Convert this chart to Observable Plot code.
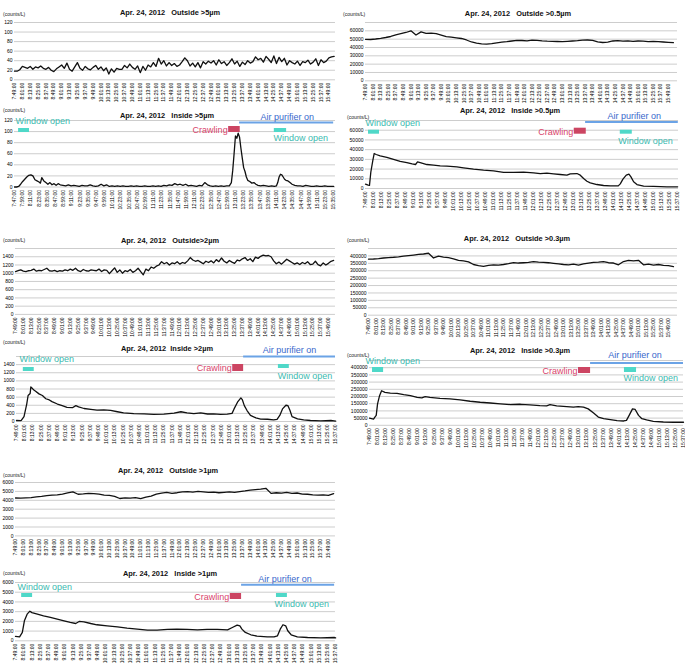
<!DOCTYPE html>
<html><head><meta charset="utf-8">
<script src="https://cdn.jsdelivr.net/npm/d3@7"></script>
<script src="https://cdn.jsdelivr.net/npm/@observablehq/plot@0.6"></script>
<style>
body{margin:0;background:#fff;}
#root{position:relative;width:685px;height:664px;overflow:hidden;font-family:"Liberation Sans",Arial,Helvetica,sans-serif;background:#fff;}
.title{position:absolute;font-weight:bold;font-size:7.4px;white-space:pre;transform:translate(-50%,-50%);color:#111;}
.unit{position:absolute;font-size:5px;transform:translateY(-50%);color:#222;white-space:pre;}
</style></head><body><div id="root"></div>
<script>
// ---------- DATA ----------
// Outside series sampled every 4 minutes from 7:49
const outside5Start = "7:49";
const outside5 = [18,18,21,28,26,24,28,22,27,25,
 29,24,22,26,20,17,23,27,31,24,
 35,22,18,27,36,24,20,28,23,21,
 26,30,22,27,19,25,12,23,16,24,
 22,22,30,25,33,26,22,29,15,28,
 20,31,27,36,28,45,33,40,29,36,
 30,34,28,31,38,46,40,29,35,27,
 36,25,38,33,39,35,40,31,42,34,
 38,30,36,44,33,39,28,37,32,40,
 35,38,48,42,45,37,49,43,36,50,
 34,47,38,45,31,40,36,33,39,30,
 38,36,41,33,37,44,30,42,36,39,
 46,48,49];
const outside2Start = "7:49";
const outside2 = [1040,1060,1080,1050,1040,1060,1070,1100,1050,1070,
 1060,1090,1120,1060,1050,1070,1040,1060,1050,1080,
 1060,1100,1070,1120,1060,1040,1090,1060,1050,1080,
 1070,1060,1100,1040,1080,1070,990,1060,1130,1020,
 1080,1000,1060,1040,1090,1020,1060,1120,1040,960,
 1100,1060,1150,1120,1170,1200,1280,1230,1260,1200,
 1250,1230,1280,1220,1260,1240,1300,1380,1320,1290,
 1310,1270,1230,1290,1260,1300,1250,1330,1280,1370,
 1290,1250,1310,1270,1240,1320,1300,1350,1380,1310,
 1350,1280,1390,1360,1410,1440,1420,1430,1400,1300,
 1230,1270,1220,1280,1340,1300,1260,1220,1250,1210,
 1260,1230,1280,1210,1220,1290,1210,1180,1250,1200,
 1240,1290,1310];
// Outside series sampled every 8 minutes from 7:49
const outside1Start = "7:49";
const outside1 = [4260,4250,4270,4300,4380,4430,4520,4580,4620,4700,
 4840,4950,4680,4720,4780,4740,4700,4580,4560,4450,
 4200,4280,4250,4300,4180,4350,4480,4700,4800,4880,
 4780,4850,4950,4980,4920,5000,4950,4880,4920,4850,
 4900,4950,4880,4980,5050,5150,5200,5250,5350,4780,
 4850,4800,4880,4780,4820,4700,4680,4620,4580,4600,
 4550,4750];
const outside05Start = "7:49";
const outside05 = [49800,49600,50200,51000,52000,53200,55000,56500,58000,60000,
 55000,58800,57000,57200,56600,54800,53000,52400,51600,50800,
 49000,46600,45200,44400,44000,44600,45600,46400,47000,47800,
 48600,48400,48000,48800,48600,48000,47600,47400,47200,47000,
 47400,47800,48200,48800,49000,48600,46800,46000,46400,47800,
 48200,47600,48000,47400,47800,47600,47000,47400,47000,46600,
 46200,45800];
const outside03Start = "7:49";
const outside03 = [378000,379000,382000,386000,389000,391000,394000,398000,402000,406000,
 410000,413000,418000,386000,398000,392000,388000,380000,370000,366000,
 360000,342000,334000,330000,336000,340000,338000,342000,348000,355000,
 352000,354000,356000,362000,358000,356000,354000,350000,346000,342000,
 340000,344000,338000,346000,352000,356000,358000,362000,354000,352000,
 340000,362000,370000,366000,370000,340000,345000,338000,342000,336000,
 334000,328000];

// Inside series (time, value)
const inside5Times = ["7:47","7:50","7:53","7:56","7:59","8:02","8:05","8:08","8:11","8:14",
 "8:17","8:20","8:23","8:25","8:27","8:30","8:33","8:36","8:39","8:42",
 "8:45","8:48","8:51","8:54","8:58","9:02","9:06","9:10","9:14","9:18",
 "9:22","9:26","9:30","9:34","9:38","9:42","9:46","9:50","9:54","9:58",
 "10:02","10:06","10:10","10:14","10:18","10:22","10:26","10:30","10:34","10:38",
 "10:42","10:46","10:50","10:54","10:58","11:02","11:06","11:10","11:14","11:18",
 "11:22","11:26","11:30","11:34","11:38","11:42","11:46","11:50","11:54","11:58",
 "12:02","12:06","12:10","12:14","12:18","12:22","12:26","12:30","12:34","12:38",
 "12:42","12:46","12:50","12:54","12:58","13:02","13:05","13:07","13:09","13:11",
 "13:13","13:15","13:17","13:19","13:21","13:23","13:25","13:27","13:29","13:32",
 "13:35","13:38","13:41","13:44","13:48","13:52","13:56","14:00","14:04","14:08",
 "14:11","14:13","14:15","14:17","14:19","14:21","14:23","14:25","14:28","14:31",
 "14:34","14:38","14:42","14:46","14:50","14:54","14:58","15:02","15:06","15:10",
 "15:14","15:18","15:22","15:26","15:30","15:35"];
const inside5 = [0,0,1,5,10,14,18,21,22,20,
 13,11,9,7,17,11,8,5,8,4,
 6,3,6,4,3,2,4,2,3,2,
 1,3,2,2,4,2,1,2,5,2,
 4,1,2,1,2,1,2,1,1,2,
 1,2,1,1,2,1,1,2,1,2,
 1,3,2,4,3,6,4,5,3,5,
 2,3,2,1,3,2,8,4,2,1,
 2,1,2,1,2,2,8,30,60,92,
 88,97,90,70,52,35,28,18,12,10,
 7,8,5,3,2,3,2,1,2,1,
 2,8,18,23,22,18,14,12,11,8,
 5,3,2,2,1,3,2,1,1,2,
 1,1,2,1,1,1];

const inside05Times = ["7:49","7:51","7:53","7:55","7:57","8:00","8:02","8:05","8:11","8:21",
 "8:31","8:41","8:51","8:59","9:04","9:07","9:11","9:21","9:31","9:41",
 "9:51","10:06","10:16","10:31","10:46","11:01","11:16","11:31","11:46","12:01",
 "12:11","12:21","12:31","12:41","12:51","12:56","13:06","13:11","13:16","13:21",
 "13:26","13:36","13:46","13:56","14:08","14:11","14:15","14:20","14:24","14:27",
 "14:31","14:36","14:46","15:01","15:21","15:37"];
const inside05 = [4500,4000,3500,3300,17000,29000,36000,35000,33600,32000,
 30000,28000,26700,25400,24700,27400,26700,24700,24000,23300,
 23000,22300,21300,19900,18900,18200,16500,16500,16800,16100,
 15400,15800,15100,14400,13700,15100,15400,13700,10300,7500,
 5800,4100,3100,2700,2700,4800,9600,13700,14700,12000,
 6900,4100,2400,2100,1700,1700];

const inside2Times = ["7:49","7:55","7:56","8:00","8:04","8:06","8:09","8:10","8:12","8:14",
 "8:17","8:22","8:27","8:32","8:36","8:41","8:49","8:56","9:03","9:11",
 "9:16","9:20","9:28","9:38","9:47","9:57","10:07","10:17","10:26","10:41",
 "10:56","11:10","11:25","11:40","11:50","11:59","12:09","12:19","12:29","12:38",
 "12:48","12:58","13:05","13:08","13:13","13:18","13:20","13:23","13:27","13:32",
 "13:40","13:47","13:57","14:06","14:11","14:15","14:19","14:24","14:27","14:30",
 "14:33","14:41","14:50","15:00","15:15","15:30","15:37"];
const inside2 = [25,20,25,120,430,640,690,850,820,780,
 745,680,640,560,540,490,430,390,350,340,
 390,360,320,300,280,285,275,240,210,195,
 190,175,180,205,240,210,195,210,185,190,
 175,180,200,310,475,580,540,390,270,150,
 90,60,55,40,50,150,310,400,390,270,
 120,65,40,25,15,25,10];

const inside03Times = ["7:49","7:55","7:57","7:59","8:01","8:04","8:07","8:12","8:20","8:30",
 "8:40","8:50","9:00","9:07","9:12","9:19","9:34","9:49","10:04","10:19",
 "10:34","10:49","11:04","11:19","11:34","11:48","12:03","12:13","12:18","12:28",
 "12:43","12:53","13:00","13:08","13:15","13:23","13:30","13:38","13:48","13:58",
 "14:08","14:12","14:16","14:21","14:25","14:30","14:35","14:42","14:52","15:07",
 "15:22","15:37"];
const inside03 = [50000,43000,57000,69000,149000,206000,240000,229000,224000,222000,
 213000,206000,194000,190000,199000,194000,187000,183000,176000,167000,
 160000,155000,149000,144000,146000,142000,137000,135000,144000,135000,
 130000,126000,130000,126000,114000,85000,57000,46000,39000,32000,
 30000,34000,69000,114000,110000,69000,46000,37000,27000,23000,
 21000,21000];

const inside1Times = ["7:49","7:55","7:59","8:02","8:06","8:10","8:13","8:21","8:30","8:40",
 "8:50","9:00","9:09","9:17","9:22","9:29","9:39","9:48","10:03","10:18",
 "10:32","10:47","11:02","11:16","11:31","11:45","12:00","12:15","12:29","12:44",
 "12:59","13:06","13:13","13:17","13:20","13:25","13:33","13:42","13:57","14:07",
 "14:12","14:16","14:20","14:24","14:27","14:32","14:41","14:56","15:15","15:35",
 "15:37"];
const inside1 = [450,400,860,2060,2740,3050,2900,2740,2570,2400,
 2230,2060,1890,1780,1990,1950,1780,1650,1540,1440,
 1300,1200,1100,1100,1170,1200,1170,1130,1170,1170,
 1130,1370,1610,1540,1200,860,620,480,410,410,
 510,1200,1650,1540,1030,620,410,340,310,340,
 310];

const titles = {
  o5: "Apr. 24, 2012   Outside >5µm", i5: "Apr. 24, 2012   Inside >5µm",
  o2: "Apr. 24, 2012   Outside>2µm", i2: "Apr. 24, 2012  Inside >2µm",
  o1: "Apr. 24, 2012   Outside >1µm", i1: "Apr. 24, 2012   Inside >1µm",
  o05: "Apr. 24, 2012   Outside >0.5µm", i05: "Apr. 24, 2012   Inside >0.5µm",
  o03: "Apr. 24, 2012   Outside >0.3µm", i03: "Apr. 24, 2012   Inside >0.3µm"
};
const unitLabel = "(counts/L)";
const annText = {window: "Window open", crawl: "Crawling", purifier: "Air purifier on"};

// ---------- HELPERS ----------
const toMin = s => { const [h, m] = s.split(":").map(Number); return h * 60 + m; };
const fmtTime = m => `${Math.floor(m / 60)}:${String(m % 60).padStart(2, "0")}:00`;
const regular = (start, step, vals) => vals.map((v, i) => ({t: toMin(start) + step * i, v}));
const paired = (times, vals) => times.map((s, i) => ({t: toMin(s), v: vals[i]}));
const tickRange = (a, b) => d3.range(toMin(a), toMin(b) + 1, 12);
const FONT = '"Liberation Sans", Arial, Helvetica, sans-serif';
const TEAL = "#4fd8c8", TEAL_TXT = "#3cbab0", BLUE = "#6ba3e6", BLUE_TXT = "#3868cc", RED = "#cc4562", RED_TXT = "#d9446b";

// ---------- PANELS ----------
const panels = [
  {title: titles.o5, tx: 170, ty: 12, ux: 3, uy: 14, left: 0, width: 340, top: 21.7, bottom: 79, ml: 14, mr: 5,
   domain: [469, 959.1], ticks: ["7:49", "15:49"], ymax: 120, labels: d3.range(0, 121, 20), grid: d3.range(0, 121, 20),
   data: regular(outside5Start, 4, outside5)},
  {title: titles.i5, tx: 167, ty: 115, ux: 3, uy: 110, left: 0, width: 340, top: 120, bottom: 186.5, ml: 14, mr: 5,
   domain: [467, 937.7], ticks: ["7:47", "15:35"], ymax: 120, labels: d3.range(0, 121, 20), grid: d3.range(0, 121, 20),
   data: paired(inside5Times, inside5),
   ann: {w1: [473, 489], crawl: [781, 798], blue: [797, 935], w2: [848, 866], wText: 468.5, airText: 827.7, w2Text: 846.8,
         off: {air: -3, blue: 2, wtext: 1, teal: [8, 12], crawl: [6, 12], crawlText: 10, teal2: [8, 12], wtext2: 18}}},
  {title: titles.o2, tx: 170, ty: 240, ux: 3, uy: 240, left: 0, width: 340, top: 248.4, bottom: 314.3, ml: 15, mr: 5,
   domain: [469, 959.8], ticks: ["7:49", "15:49"], ymax: 1600, labels: d3.range(0, 1401, 200), grid: d3.range(0, 1601, 200),
   data: regular(outside2Start, 4, outside2)},
  {title: titles.i2, tx: 167, ty: 348, ux: 3, uy: 341.5, left: 0, width: 340, top: 356, bottom: 421, ml: 16, mr: 5,
   domain: [469, 936.7], ticks: ["7:49", "15:37"], ymax: 1600, labels: d3.range(0, 1401, 200), grid: d3.range(0, 1601, 200),
   data: paired(inside2Times, inside2),
   ann: {w1: [479, 495], crawl: [786, 802], blue: [802, 936.7], w2: [853, 869], wText: 473.4, airText: 830, w2Text: 852,
         off: {air: -6, blue: 0, wtext: 3, teal: [11, 15], crawl: [8, 15], crawlText: 12, teal2: [8, 12], wtext2: 20}}},
  {title: titles.o1, tx: 168, ty: 470, ux: 3, uy: 475, left: 0, width: 340, top: 482.3, bottom: 535.7, ml: 15, mr: 5,
   domain: [469, 959.8], ticks: ["7:49", "15:49"], ymax: 6000, labels: d3.range(0, 6001, 1000), grid: d3.range(0, 6001, 1000),
   data: regular(outside1Start, 8, outside1)},
  {title: titles.i1, tx: 170, ty: 572.7, ux: 3, uy: 573, left: 0, width: 340, top: 581.7, bottom: 640, ml: 15, mr: 5,
   domain: [469, 936.8], ticks: ["7:49", "15:37"], ymax: 6000, labels: d3.range(0, 6001, 1000), grid: d3.range(0, 6001, 1000),
   data: paired(inside1Times, inside1),
   ann: {w1: [478, 494], crawl: [783, 799.5], blue: [799.5, 935.5], w2: [850.5, 866.5], wText: 472, airText: 824, w2Text: 847.7,
         off: {air: -3.7, blue: 2.3, wtext: 5, teal: [11, 15], crawl: [11, 17], crawlText: 15, teal2: [11, 15], wtext2: 22}}},
  {title: titles.o05, tx: 518, ty: 12.7, ux: 343, uy: 14, left: 340, width: 345, top: 21.7, bottom: 80, ml: 25, mr: 8,
   domain: [469, 963.5], ticks: ["7:49", "15:49"], ymax: 70000, labels: d3.range(0, 60001, 10000), grid: d3.range(0, 70001, 10000),
   data: regular(outside05Start, 8, outside05)},
  {title: titles.i05, tx: 510, ty: 110, ux: 347, uy: 117, left: 340, width: 345, top: 120.3, bottom: 188.3, ml: 25, mr: 7,
   domain: [469, 938.3], ticks: ["7:49", "15:37"], ymax: 70000, labels: d3.range(0, 60001, 10000), grid: d3.range(0, 70001, 10000),
   data: paired(inside05Times, inside05),
   ann: {w1: [473.5, 490], crawl: [782, 800], blue: [799, 938], w2: [851, 869], wText: 469, airText: 832, w2Text: 848,
         off: {air: -4.6, blue: 1.4, wtext: 3, teal: [9.7, 13.7], crawl: [7.7, 13.7], crawlText: 11.7, teal2: [9.7, 13.7], wtext2: 20.7}}},
  {title: titles.o03, tx: 517, ty: 238, ux: 347, uy: 240, left: 340, width: 345, top: 247.6, bottom: 314.3, ml: 28, mr: 8,
   domain: [469, 963.4], ticks: ["7:49", "15:49"], ymax: 450000, labels: d3.range(0, 400001, 50000), grid: d3.range(0, 450001, 50000),
   data: regular(outside03Start, 8, outside03)},
  {title: titles.i03, tx: 520, ty: 350, ux: 347, uy: 355, left: 340, width: 345, top: 360.2, bottom: 425, ml: 29, mr: 2,
   domain: [469, 937], ticks: ["7:49", "15:37"], ymax: 450000, labels: d3.range(0, 400001, 50000), grid: d3.range(0, 450001, 50000),
   data: paired(inside03Times, inside03),
   ann: {w1: [473.5, 490], crawl: [780.5, 798.5], blue: [798.5, 937], w2: [849, 867], wText: 463, airText: 825, w2Text: 847.5,
         off: {air: -5, blue: 2.5, wtext: 0.5, teal: [7, 12], crawl: [7, 13], crawlText: 10.5, teal2: [7, 12], wtext2: 18}}}
];

const root = document.getElementById("root");

function drawPanel(p) {
  const plotH = p.bottom - p.top;
  const mt = p.ann ? 15 : 4;
  const mb = 26;
  const yv = off => p.ymax * (1 - off / plotH);
  const marks = [
    Plot.ruleY(p.grid, {stroke: "#cdcdcd", strokeWidth: 1}),
    Plot.line(p.data, {x: "t", y: "v", stroke: "#111", strokeWidth: 1.3, strokeLinejoin: "round"})
  ];
  if (p.ann) {
    const a = p.ann, o = a.off;
    const txt = (x, y, s, fill, anchor, dx = 0) =>
      Plot.text([{x, y, s}], {x: "x", y: "y", text: "s", fill, textAnchor: anchor, dx, fontSize: 9, fontFamily: FONT});
    const box = (x1, x2, offs, fill) =>
      Plot.rect([{x1, x2, y1: yv(offs[1]), y2: yv(offs[0])}], {x1: "x1", x2: "x2", y1: "y1", y2: "y2", fill});
    marks.push(
      Plot.ruleY([{y: yv(o.blue), x1: a.blue[0], x2: a.blue[1]}], {y: "y", x1: "x1", x2: "x2", stroke: BLUE, strokeWidth: 2}),
      box(a.w1[0], a.w1[1], o.teal, TEAL),
      box(a.w2[0], a.w2[1], o.teal2, TEAL),
      box(a.crawl[0], a.crawl[1], o.crawl, RED),
      txt(a.wText, yv(o.wtext), annText.window, TEAL_TXT, "start"),
      txt(a.w2Text, yv(o.wtext2), annText.window, TEAL_TXT, "start"),
      txt(a.airText, yv(o.air), annText.purifier, BLUE_TXT, "start"),
      txt(a.crawl[0], yv(o.crawlText), annText.crawl, RED_TXT, "end", -1)
    );
  }
  const svg = Plot.plot({
    width: p.width, height: mt + plotH + mb,
    marginTop: mt, marginBottom: mb, marginLeft: p.ml, marginRight: p.mr,
    x: {type: "linear", domain: p.domain, ticks: tickRange(p.ticks[0], p.ticks[1]), tickFormat: fmtTime,
        tickRotate: -90, tickSize: 0, tickPadding: 3, label: null},
    y: {type: "linear", domain: [0, p.ymax], ticks: p.labels, tickFormat: d3.format("d"), tickSize: 0, tickPadding: 2, label: null},
    marks
  });
  svg.style.position = "absolute";
  svg.style.left = p.left + "px";
  svg.style.top = (p.top - mt) + "px";
  svg.style.background = "transparent";
  svg.style.overflow = "visible";
  svg.style.fontSize = "5px";
  svg.style.fontFamily = FONT;
  svg.style.maxWidth = "none";
  root.appendChild(svg);

  const t = document.createElement("div");
  t.className = "title"; t.textContent = p.title;
  t.style.left = p.tx + "px"; t.style.top = p.ty + "px";
  root.appendChild(t);
  const u = document.createElement("div");
  u.className = "unit"; u.textContent = unitLabel;
  u.style.left = p.ux + "px"; u.style.top = p.uy + "px";
  root.appendChild(u);
}
panels.forEach(drawPanel);
</script></body></html>
